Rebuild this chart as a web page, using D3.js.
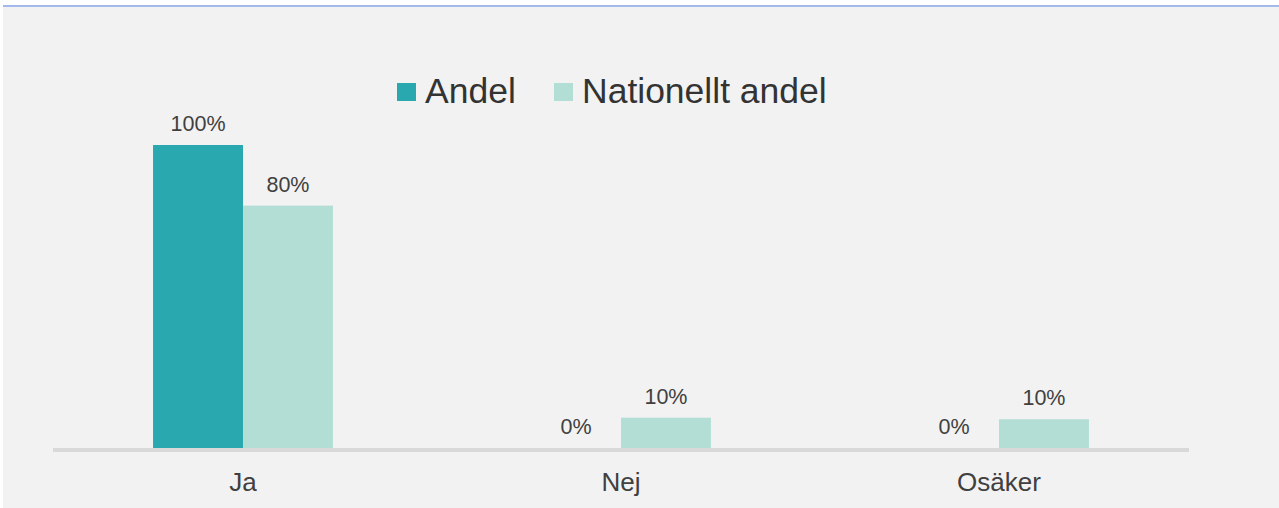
<!DOCTYPE html>
<html>
<head>
<meta charset="utf-8">
<script src="https://cdn.jsdelivr.net/npm/d3@7"></script>
<style>
  html, body { margin: 0; padding: 0; background: #ffffff; }
  svg { display: block; font-family: Arial, "Liberation Sans", sans-serif; }
</style>
</head>
<body>
<svg id="chart" width="1279" height="508"></svg>
<script>
// data
var categories = ["Ja", "Nej", "Osäker"];
var seriesNames = ["Andel", "Nationellt andel"];
var andel = [100, 0, 0];
var nationelltAndel = [80, 10, 9.5];
var seriesColors = ["#29a8b0", "#b3ded6"];

var svg = d3.select("#chart");
var W = 1279, H = 508;

// panel background + top line
svg.append("rect")
  .attr("x", 3).attr("y", 6)
  .attr("width", W - 3).attr("height", H - 6)
  .style("fill", "#f2f2f2");
svg.append("line")
  .attr("x1", 3).attr("x2", W)
  .attr("y1", 6).attr("y2", 6)
  .style("stroke", "#a3b9ec")
  .style("stroke-width", 2);

var x0 = d3.scaleBand()
  .domain(categories)
  .range([54, 1188])
  .paddingInner(0.524)
  .paddingOuter(0.262);

var x1 = d3.scaleBand()
  .domain(seriesNames)
  .range([0, x0.bandwidth()]);

var y = d3.scaleLinear()
  .domain([0, 100])
  .range([448, 145]);

var rows = categories.map(function(c, i) {
  return { cat: c, vals: [
    { name: seriesNames[0], v: andel[i], color: seriesColors[0] },
    { name: seriesNames[1], v: nationelltAndel[i], color: seriesColors[1] }
  ]};
});

var groups = svg.selectAll("g.grp").data(rows)
  .enter().append("g")
    .attr("class", "grp")
    .attr("transform", function(d) { return "translate(" + x0(d.cat) + ",0)"; });

groups.selectAll("rect").data(function(d) { return d.vals; })
  .enter().append("rect")
    .attr("x", function(d) { return x1(d.name); })
    .attr("y", function(d) { return y(d.v); })
    .attr("width", x1.bandwidth())
    .attr("height", function(d) { return y(0) - y(d.v); })
    .style("fill", function(d) { return d.color; });

var fmt = d3.format(".0f");
groups.selectAll("text").data(function(d) { return d.vals; })
  .enter().append("text")
    .attr("x", function(d) { return x1(d.name) + x1.bandwidth() / 2; })
    .attr("y", function(d) { return y(d.v) - 14; })
    .attr("text-anchor", "middle")
    .style("font-size", "21.5px")
    .style("fill", "#404040")
    .text(function(d) { return fmt(d.v) + "%"; });

// axis
var xAxis = svg.append("g")
  .attr("transform", "translate(0," + 450 + ")")
  .call(d3.axisBottom(x0).tickSize(0).tickPadding(23));
xAxis.select(".domain")
  .attr("d", "M53,0H1189")
  .style("stroke", "#d9d9d9")
  .style("stroke-width", 4);
xAxis.selectAll(".tick text")
  .style("font-family", "Arial, 'Liberation Sans', sans-serif")
  .style("font-size", "26px")
  .style("fill", "#404040");

// legend
var legendX = [397, 554];
var legend = svg.selectAll("g.leg").data(seriesNames)
  .enter().append("g")
    .attr("class", "leg")
    .attr("transform", function(d, i) { return "translate(" + legendX[i] + ",0)"; });
legend.append("rect")
  .attr("x", 0).attr("y", 83)
  .attr("width", 19).attr("height", 18)
  .style("fill", function(d, i) { return seriesColors[i]; });
legend.append("text")
  .attr("x", 28).attr("y", 103)
  .style("font-size", "35.5px")
  .style("fill", "#333333")
  .text(function(d) { return d; });
</script>
</body>
</html>
